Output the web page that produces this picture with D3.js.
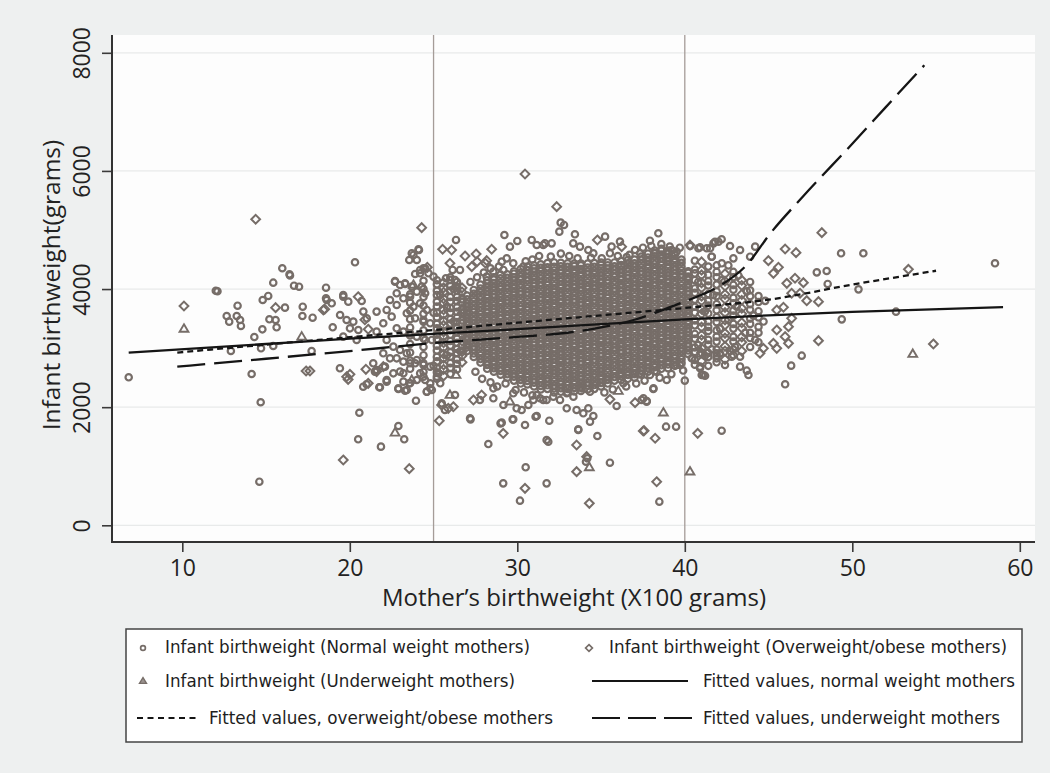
<!DOCTYPE html>
<html>
<head>
<meta charset="utf-8">
<script src="https://cdn.jsdelivr.net/npm/d3@7"></script>
<style>
body { margin: 0; background: #eef0f0; }
svg { display: block; }
</style>
</head>
<body>
<svg id="chart" width="1050" height="773"></svg>
<script>
// ---- data ----
var xTicks = [10, 20, 30, 40, 50, 60];
var yTicks = [0, 2000, 4000, 6000, 8000];
var refLines = [25, 40];

// dense part of the cloud, grouped by mother's birthweight: [x, [infant weights]]
var normalCols = [
  [23.6, [2650,2790,2925,3070,3215,3350,3490,3635,3770,3910]],
  [24.4, [2600,2745,2880,3020,3165,3300,3445,3580,3720,3865,4000,4140]],
  [25.2, [2480,2590,2660,2775,2850,2960,3040,3150,3225,3335,3410,3520,3600,3705,3785,3900,3970,4080,4150]],
  [26.0, [2560,2665,2745,2855,2930,3040,3120,3225,3305,3415,3490,3600,3680,3785,3865,3975,4050,4155,4200]],
  [26.4, [2640,2735,2810,2915,2985,3090,3160,3265,3340,3440,3515,3615,3690,3795,3865,3970,4040,4120]],
  [27.0, [2950,3015,3070,3140,3200,3265,3320,3390,3445,3510,3575,3630,3700,3760,3825,3890]],
  [27.4, [2850,2910,2975,3030,3100,3160,3225,3285,3355,3410,3475,3535,3605,3660,3725,3790,3850,3920,3985]],
  [27.8, [2755,2815,2880,2935,3005,3065,3130,3190,3260,3315,3380,3440,3510,3570,3630,3695,3755,3820,3880,3950,4010,4075]],
  [28.2, [2650,2715,2770,2840,2900,2965,3025,3095,3150,3215,3275,3345,3400,3465,3525,3595,3650,3715,3775,3845,3900,3965,4030,4095,4150]],
  [28.6, [2600,2660,2725,2780,2850,2910,2975,3035,3105,3160,3225,3285,3355,3410,3475,3535,3605,3660,3725,3785,3855,3910,3975,4035,4100,4160,4200]],
  [29.0, [2550,2615,2670,2740,2800,2865,2925,2995,3050,3115,3175,3245,3300,3365,3425,3495,3550,3615,3675,3745,3800,3865,3925,3995,4050,4115,4180,4245]],
  [29.4, [2500,2560,2625,2680,2750,2810,2875,2935,3005,3060,3125,3185,3255,3310,3375,3435,3505,3560,3625,3685,3755,3810,3875,3935,4005,4060,4125,4190,4250]],
  [29.8, [2450,2515,2570,2640,2700,2765,2825,2895,2950,3015,3075,3145,3200,3265,3325,3395,3450,3515,3575,3645,3700,3765,3825,3895,3950,4015,4075,4145,4200,4260,4300]],
  [30.2, [2400,2460,2525,2580,2650,2710,2775,2835,2905,2960,3025,3085,3155,3210,3275,3335,3405,3460,3525,3585,3655,3710,3775,3835,3905,3960,4025,4085,4155,4210,4275,4340]],
  [30.6, [2385,2445,2510,2565,2635,2695,2760,2820,2890,2945,3010,3070,3140,3195,3260,3320,3390,3445,3510,3570,3640,3695,3760,3820,3890,3945,4010,4070,4140,4195,4260,4320,4380]],
  [31.0, [2350,2415,2470,2540,2600,2665,2725,2795,2850,2915,2975,3045,3100,3165,3225,3295,3350,3415,3475,3545,3600,3665,3725,3795,3850,3915,3975,4045,4100,4165,4225,4295,4350,4400]],
  [31.4, [2300,2360,2425,2480,2550,2610,2675,2735,2805,2860,2925,2985,3055,3110,3175,3235,3305,3360,3425,3485,3555,3610,3675,3735,3805,3860,3925,3985,4055,4110,4175,4235,4305,4360,4420]],
  [31.8, [2310,2370,2435,2490,2560,2620,2685,2745,2815,2870,2935,2995,3065,3120,3185,3245,3315,3370,3435,3495,3565,3620,3685,3745,3815,3870,3935,3995,4065,4120,4185,4245,4315,4370,4440]],
  [32.2, [2250,2315,2370,2440,2500,2565,2625,2695,2750,2815,2875,2945,3000,3065,3125,3195,3250,3315,3375,3445,3500,3565,3625,3695,3750,3815,3875,3945,4000,4065,4125,4195,4250,4315,4375,4450]],
  [32.6, [2260,2320,2385,2440,2510,2570,2635,2695,2765,2820,2885,2945,3015,3070,3135,3195,3265,3320,3385,3445,3515,3570,3635,3695,3765,3820,3885,3945,4015,4070,4135,4195,4265,4320,4385,4445]],
  [33.0, [2250,2310,2375,2430,2500,2560,2625,2685,2755,2810,2875,2935,3005,3060,3125,3185,3255,3310,3375,3435,3505,3560,3625,3685,3755,3810,3875,3935,4005,4060,4125,4185,4255,4310,4375,4435]],
  [33.4, [2265,2325,2390,2445,2515,2575,2640,2700,2770,2825,2890,2950,3020,3075,3140,3200,3270,3325,3390,3450,3520,3575,3640,3700,3770,3825,3890,3950,4020,4075,4140,4200,4270,4325,4390,4430]],
  [33.8, [2275,2340,2395,2465,2525,2590,2650,2720,2775,2840,2900,2970,3025,3090,3150,3220,3275,3340,3400,3470,3525,3590,3650,3720,3775,3840,3900,3970,4025,4090,4150,4220,4275,4340,4400,4430]],
  [34.2, [2300,2365,2420,2490,2550,2615,2675,2745,2800,2865,2925,2995,3050,3115,3175,3245,3300,3365,3425,3495,3550,3615,3675,3745,3800,3865,3925,3995,4050,4115,4175,4245,4300,4365,4430]],
  [34.6, [2310,2375,2430,2500,2560,2625,2685,2755,2810,2875,2935,3005,3060,3125,3185,3255,3310,3375,3435,3505,3560,3625,3685,3755,3810,3875,3935,4005,4060,4125,4185,4255,4310,4375,4440]],
  [35.0, [2350,2410,2475,2530,2600,2660,2725,2785,2855,2910,2975,3035,3105,3160,3225,3285,3355,3410,3475,3535,3605,3660,3725,3785,3855,3910,3975,4035,4105,4160,4225,4285,4355,4410,4450]],
  [35.4, [2400,2465,2520,2590,2650,2715,2775,2845,2900,2965,3025,3095,3150,3215,3275,3345,3400,3465,3525,3595,3650,3715,3775,3845,3900,3965,4025,4095,4150,4215,4275,4345,4400,4450]],
  [35.8, [2450,2510,2575,2630,2700,2760,2825,2885,2955,3010,3075,3135,3205,3260,3325,3385,3455,3510,3575,3635,3705,3760,3825,3885,3955,4010,4075,4135,4205,4260,4325,4385,4450]],
  [36.2, [2460,2525,2580,2650,2710,2775,2835,2905,2960,3025,3085,3155,3210,3275,3335,3405,3460,3525,3585,3655,3710,3775,3835,3905,3960,4025,4085,4155,4210,4275,4335,4405,4475]],
  [36.6, [2480,2545,2600,2670,2730,2795,2855,2925,2980,3045,3105,3175,3230,3295,3355,3425,3480,3545,3605,3675,3730,3795,3855,3925,3980,4045,4105,4175,4230,4295,4355,4425,4490]],
  [37.0, [2500,2560,2625,2680,2750,2810,2875,2935,3005,3060,3125,3185,3255,3310,3375,3435,3505,3560,3625,3685,3755,3810,3875,3935,4005,4060,4125,4185,4255,4310,4375,4435,4500]],
  [37.4, [2550,2615,2670,2740,2800,2865,2925,2995,3050,3115,3175,3245,3300,3365,3425,3495,3550,3615,3675,3745,3800,3865,3925,3995,4050,4115,4175,4245,4300,4365,4425,4495,4550]],
  [37.8, [2600,2660,2725,2780,2850,2910,2975,3035,3105,3160,3225,3285,3355,3410,3475,3535,3605,3660,3725,3785,3855,3910,3975,4035,4105,4160,4225,4285,4355,4410,4475,4535,4600]],
  [38.2, [2610,2675,2730,2800,2860,2925,2985,3055,3110,3175,3235,3305,3360,3425,3485,3555,3610,3675,3735,3805,3860,3925,3985,4055,4110,4175,4235,4305,4360,4425,4485,4555,4610,4650]],
  [38.6, [2650,2710,2775,2830,2900,2960,3025,3085,3155,3210,3275,3335,3405,3460,3525,3585,3655,3710,3775,3835,3905,3960,4025,4085,4155,4210,4275,4335,4405,4460,4525,4585,4650,4680]],
  [39.0, [2660,2725,2780,2850,2910,2975,3035,3105,3160,3225,3285,3355,3410,3475,3535,3605,3660,3725,3785,3855,3910,3975,4035,4105,4160,4225,4285,4355,4410,4475,4535,4600,4650]],
  [39.4, [2700,2760,2825,2880,2950,3010,3075,3135,3205,3260,3325,3385,3455,3510,3575,3635,3705,3760,3825,3885,3955,4010,4075,4135,4205,4260,4325,4385,4455,4510,4575,4600]],
  [39.8, [2750,2815,2870,2940,3000,3065,3125,3195,3250,3315,3375,3445,3500,3565,3625,3695,3750,3815,3875,3945,4000,4065,4125,4195,4250,4315,4375,4445,4500]],
  [40.2, [2900,2960,3025,3080,3150,3210,3275,3335,3405,3460,3525,3585,3655,3710,3775,3835,3905,3960,4025,4085,4155,4210,4275,4300]],
  [40.6, [2720,2800,2935,3010,3160,3240,3385,3470,3600,3700,3820,3935,4010,4150,4265,4330,4480]],
  [41.4, [2700,2850,2920,3060,3140,3290,3360,3450,3585,3720,3800,3915,4060,4135,4240,4380]],
  [41.9, [2760,2870,2975,3110,3195,3300,3440,3525,3640,3745,3880,3960,4075,4200,4290,4400]],
  [42.9, [2880,2975,3110,3190,3330,3410,3550,3635,3760,3850,3990,4070,4200,4290]],
  [43.9, [3020,3170,3260,3410,3500,3650,3745,3880,3980,4120]],
  [44.4, [3100,3260,3360,3520,3625,3780,3880]]
];

var overCols = [
  [25.6, [2530,2640,2715,2830,2900,3010,3090,3200,3275,3385,3460,3570,3650,3760,3835,3945,4020,4110]],
  [26.7, [2760,2870,2940,3050,3120,3230,3300,3410,3480,3590,3660,3770,3840,3950,4020]],
  [41.0, [2780,2920,3000,3140,3220,3355,3445,3580,3660,3800,3880,4020,4105,4240,4320,4460]],
  [42.4, [2810,2950,3030,3170,3250,3390,3475,3600,3690,3830,3910,4050,4135,4260]],
  [43.4, [2950,3100,3190,3340,3430,3580,3675,3810,3910,4060,4150]]
];

// scattered infants of normal weight mothers: [mother x100g, infant g]
var normalPts = [
  [6.8,2506],[12.0,3972],[12.1,3962],[12.65,3544],[12.8,3448],[13.25,3544],[13.45,3476],[13.5,3375],[13.3,3718],[12.9,2951],
  [14.14,2562],[14.68,2083],[14.6,738],[14.3,3188],[14.78,3318],[14.8,3815],[15.13,3883],[15.43,4108],[15.97,4352],[16.4,4250],
  [16.43,4230],[16.67,4057],[16.97,4040],[16.13,3685],[15.2,3488],[15.57,3476],[15.63,3352],[14.7,2997],[15.43,3036],[17.19,3701],
  [17.17,3544],[17.78,3515],[17.72,2951],[18.58,4023],[18.58,3843],[19.61,3900],[20.31,4453],[18.62,3815],[18.92,3759],[18.98,3352],
  [19.41,2658],[20.57,1906],[20.5,1456],[21.86,1332],[22.9,1681],[23.25,1456],[23.95,2110],[21.0,2387],[20.8,2347],[21.76,2337],
  [22.2,2432],[22.9,2308],[23.3,2279],[23.2,2574],
  [19.61,3871],[19.91,3787],[20.71,3798],[20.81,3618],[19.42,3561],[19.81,3476],[20.21,3448],[20.01,3335],[20.51,3307],[19.61,3194],
  [20.41,3138],[21.01,3505],[21.6,3618],[22.2,3646],[22.0,3420],[21.6,3279],[22.5,3533],[22.7,4125],[23.0,4069],[23.3,4097],
  [23.7,4041],[22.8,3928],[23.2,3843],[23.6,3871],[24.0,3956],[24.3,4041],[24.5,3928],[23.8,3702],[24.2,3759],[24.6,3646],
  [22.8,3730],[22.4,3815],[23.4,3589],[23.9,3505],[24.4,3476],[24.8,3420],[22.8,3335],[23.2,3279],[23.6,3251],[24.0,3194],
  [24.5,3138],[24.9,3138],[22.2,3138],[22.6,3025],[23.0,2968],[23.4,2912],[22.0,2912],[22.4,2827],[22.8,2827],[23.2,2771],
  [23.6,2743],[24.0,2799],[24.4,2715],[24.8,2686],[21.4,2743],[21.6,2630],[22.6,2573],[23.0,2602],[23.2,2432],[23.6,2404],
  [24.0,2460],[24.4,2517],[24.8,2404],[24.9,2291],[24.6,2263],[24.2,4267],[24.0,4492],[23.7,4605],[24.1,4673],[24.4,4351],
  [24.7,4267],[25.0,4210],
  [23.55,4492],[23.8,4577],[24.13,4661],[23.9,4255],[24.2,4323],[24.5,4351],[22.7,4136],[23.3,4086],[26.34,4831],[29.23,4915],
  [29.56,4718],[30.0,4814],[30.86,4831],[31.16,4746],[31.65,4774],[26.14,4323],[26.58,4323],[25.74,4182],[26.28,4154],[29.07,4464],
  [29.37,4520],[29.76,4436],[30.36,4379],[28.57,4295],[28.17,4210],[29.17,4323],
  [32.59,5124],[32.79,5085],[32.51,4972],[33.44,4927],[35.24,4887],[35.63,4718],[36.13,4803],[37.92,4819],[38.42,4944],[31.55,4746],
  [32.05,4774],[33.34,4774],[33.74,4718],[34.24,4661],[34.54,4605],[35.04,4520],[35.53,4605],[36.53,4540],[37.03,4661],[37.33,4605],
  [38.22,4605],[38.92,4605],[39.22,4661],[39.51,4633],
  [40.81,4690],[41.31,4690],[41.6,4548],[41.8,4802],[42.2,4842],
  [49.33,4605],[50.66,4605],[58.52,4436],[47.88,4283],[48.47,4306],[48.53,4086],[50.37,3995],[52.61,3617],[49.37,3487],[46.98,2872],
  [46.35,2703],[45.99,2387],[40.32,4729],[40.91,4707],[41.51,4690],[41.71,4774],[42.01,4802],[42.7,4729],[43.3,4661],[44.2,4718],
  [43.9,4548],[41.61,4548],[42.21,4436],[42.9,4520],[40.45,2827],[40.91,2686],[41.01,2545],[41.21,2533],[42.4,2714],[42.8,2855],
  [43.3,2855],[43.3,2686],[43.7,2618],[43.8,2545],[42.1,2912],[41.9,2827],[38.13,2319],[37.53,2150],[37.73,2105],[38.88,1670],
  [39.48,1670],[42.2,1602],
  [27.21,1794],[28.27,1376],[29.0,1726],[29.72,1794],[30.46,1698],[31.09,1839],[31.91,1771],[31.85,1416],[31.75,1444],[30.5,982],
  [29.16,710],[30.16,417],[31.75,710],[34.18,1134],[34.1,1077],[33.64,1625],[34.78,1512],[35.53,1060],[38.48,400],
  [22.1,2686],[21.5,2602],[22.2,2460],[21.8,2336],[22.9,2319],[23.4,2291],[23.55,2404],[24.2,2573],[24.5,2460],[24.6,2263],
  [24.8,2319],[25.2,2517],[25.4,2404],[25.3,2573],[23.9,2743],
  [25.49,2065],[25.68,1952],[26.28,2206],[27.18,1811],[27.77,2122],[28.57,2319],[28.57,2150],[29.17,2037],[29.76,2235],[29.96,1981],
  [30.26,1952],[30.66,2037],[30.96,2122],[31.16,2206],[31.55,2122],[29.07,1738],[29.76,1794],[31.16,1851],
  [32.95,1981],[33.54,1952],[33.94,1896],[34.24,1981],[34.54,1851],[34.34,1755],[33.64,1614],[35.93,2020],[37.42,2122],[37.72,2094],
  [38.12,2308],
  [31.36,2150],[31.75,2122],[32.15,2178],[32.55,2122],[32.95,2235],[33.35,2178],[33.84,2319],[34.34,2263],[34.74,2404],[35.34,2460],
  [36.13,2573],[36.33,2404],[36.93,2573],[37.33,2573],[37.92,2545],[38.32,2601],[38.92,2460],[39.51,2714],[39.71,2714],[40.41,2827],
  [40.91,2658],[41.11,2545],[41.9,2912],
  [27.5,2600],[27.9,2480],[28.4,2420],[28.8,2350],[29.3,2400],[29.9,2290],[30.4,2250],[30.9,2200],[35.2,2250],[35.7,2300],
  [36.5,2350],[37.1,2400],[37.6,2450],[38.5,2500],[39.2,2560],[39.9,2620],[40.0,2450],
  [27.2,4120],[27.6,4200],[28.0,4280],[28.4,4350],[28.9,4380],[30.5,4470],[30.9,4500],[31.3,4560],[32.0,4550],[32.6,4600],
  [33.1,4560],[33.6,4520],[34.4,4530],[36.0,4560],[36.7,4580],[37.5,4700],[38.0,4730],[38.6,4760],[39.1,4720],[39.7,4700],
  [40.8,3050],[41.2,3620],[41.6,2980],[41.7,3900],[42.1,3330],[42.2,4150],[42.6,3480],[42.7,2950],[43.1,3700],[43.2,4230],
  [43.6,3260],[43.7,3960],[44.1,3550],[44.2,3140],[44.7,3450],[44.8,3800],[40.8,4120],[41.2,2870],[42.6,4400],[43.0,3020],
  [25.0,2700],[25.4,3300],[25.8,2880],[25.8,3700],[26.2,3450],[26.6,2950],[26.2,4000],[25.4,3900],[26.8,3600],[25.0,3600]
];

// infants of overweight/obese mothers
var overPts = [
  [10.1,3713],[14.38,5181],[15.57,3685],[17.39,2613],[17.62,2613],[18.42,3645],[18.5,3660],[19.81,2516],[20.01,2556],[19.61,1106],
  [23.55,959],[20.96,2641],[21.6,2602],[22.0,2686],[21.1,2404],[20.5,3870],[20.9,3480],[21.1,3320],[19.9,2470],
  [24.29,5040],[24.63,4368],[25.54,4673],[26.08,4661],[25.98,4436],[26.88,4560],[27.54,4594],[28.17,4481],[28.47,4673],[27.28,4379],
  [27.6,4464],[28.1,4436],[30.46,5948],[32.35,5395],[34.78,4831],[36.23,4718],[40.31,4746],
  [48.18,4955],[53.35,4334],[47.98,3787],[54.84,3070],[47.98,3126],[45.99,4678],[46.64,4616],[44.99,4481],[45.59,4368],[45.29,4266],
  [46.09,4097],[46.58,4182],[47.08,4108],[47.28,3803],[46.88,3928],[46.38,3928],[45.89,3691],[45.49,3646],[46.38,3504],[46.19,3363],
  [45.49,3307],[45.29,3081],[45.49,2996],[46.19,3081],[45.99,3194],[44.69,2996],[44.49,2912],[37.57,1602],[38.23,1473],[40.77,1557],
  [25.34,1771],[25.88,1980],[26.18,2008],[25.48,2037],[29.16,1557],[30.46,626],[33.54,1359],[33.54,908],[34.3,372],[38.32,738],
  [27.38,2122],[27.87,2206],[34.14,1162],[35.53,2133],[37.03,2077],[37.52,1596]
];

// infants of underweight mothers
var underPts = [
  [10.1,3325],[17.13,3193],[22.7,1568],[25.98,2206],[23.7,2460],[23.8,4070],[26.34,2545],[29.56,2094],[34.3,981],[36.03,2274],
  [38.72,1907],[40.31,908],[40.97,2900],[53.61,2900]
];

// fitted values: [x, predicted infant g]
var fitNormal = [[6.8,2925],[15,3070],[20,3160],[25,3240],[30,3320],[35,3405],[40,3485],[45,3555],[50,3615],[59,3695]];
var fitOver = [[9.7,2925],[15,3060],[20,3185],[25,3305],[30,3430],[35,3555],[40,3680],[45,3820],[50,4075],[55,4310]];
var fitUnder = [[9.7,2686],[15,2820],[20,2950],[25,3085],[30,3190],[33,3260],[35,3350],[37,3480],[39,3680],[40,3790],[42,4040],[43.7,4410],[45.1,4940],[47,5550],[50,6460],[52,7080],[54.3,7790]];

var legendLabels = [
  'Infant birthweight (Normal weight mothers)',
  'Infant birthweight (Overweight/obese mothers)',
  'Infant birthweight (Underweight mothers)',
  'Fitted values, normal weight mothers',
  'Fitted values, overweight/obese mothers',
  'Fitted values, underweight mothers'
];

// ---- drawing ----
var svg = d3.select('#chart');
var W = 1050, H = 773;
var plot = {left: 112, right: 1035, top: 35, bottom: 542};
var markColor = '#766d68';
var lineColor = '#151515';

var x = d3.scaleLinear().domain([10, 60]).range([182.3, 1019.8]);
var y = d3.scaleLinear().domain([0, 8000]).range([525.3, 52.8]);

svg.append('rect').attr('width', W).attr('height', H).attr('fill', '#eef0f0');
svg.append('rect')
  .attr('x', plot.left).attr('y', plot.top)
  .attr('width', plot.right - plot.left).attr('height', plot.bottom - plot.top)
  .attr('fill', '#fdfdfd');

// gridlines
svg.append('g').selectAll('line')
  .data(yTicks).enter().append('line')
  .attr('x1', plot.left).attr('x2', plot.right)
  .attr('y1', function(d) { return y(d); }).attr('y2', function(d) { return y(d); })
  .attr('stroke', '#e8eaea').attr('stroke-width', 1.2);

// reference lines at 25 and 40
svg.append('g').selectAll('line')
  .data(refLines).enter().append('line')
  .attr('x1', function(d) { return x(d); }).attr('x2', function(d) { return x(d); })
  .attr('y1', plot.top).attr('y2', plot.bottom)
  .attr('stroke', '#a59c98').attr('stroke-width', 1.3);

function flatten(cols) {
  var out = [];
  cols.forEach(function(c) {
    c[1].forEach(function(v) { out.push([c[0], v]); });
  });
  return out;
}

var diamondPath = 'M0,-4.4L4.4,0L0,4.4L-4.4,0Z';
var trianglePath = 'M0,-4.6L4.4,2.9L-4.4,2.9Z';

var pts = svg.append('g').attr('class', 'points')
  .attr('fill', 'none').attr('stroke', markColor);

pts.append('g').selectAll('circle')
  .data(flatten(normalCols).concat(normalPts))
  .enter().append('circle')
  .attr('cx', function(d) { return x(d[0]); })
  .attr('cy', function(d) { return y(d[1]); })
  .attr('r', 3.2)
  .attr('stroke-width', 2.2);

pts.append('g').selectAll('path')
  .data(flatten(overCols).concat(overPts))
  .enter().append('path')
  .attr('d', diamondPath)
  .attr('transform', function(d) { return 'translate(' + [x(d[0]), y(d[1])] + ')'; })
  .attr('stroke-width', 2);

pts.append('g').selectAll('path')
  .data(underPts)
  .enter().append('path')
  .attr('d', trianglePath)
  .attr('transform', function(d) { return 'translate(' + [x(d[0]), y(d[1])] + ')'; })
  .attr('stroke-width', 1.9);

// fitted lines
var line = d3.line()
  .x(function(d) { return x(d[0]); })
  .y(function(d) { return y(d[1]); })
  .curve(d3.curveMonotoneX);

var fits = [
  {data: fitNormal, dash: null},
  {data: fitOver, dash: '6,4'},
  {data: fitUnder, dash: '28,9'}
];
svg.append('g').selectAll('path')
  .data(fits).enter().append('path')
  .attr('d', function(d) { return line(d.data); })
  .attr('fill', 'none')
  .attr('stroke', lineColor)
  .attr('stroke-width', 2.3)
  .attr('stroke-dasharray', function(d) { return d.dash; });

// axes
var yAxis = svg.append('g')
  .attr('transform', 'translate(' + [plot.left, 0] + ')')
  .call(d3.axisLeft(y).tickValues(yTicks).tickFormat(d3.format('d')).tickSize(10).tickSizeOuter(0));
yAxis.select('.domain').remove();
yAxis.selectAll('line').attr('stroke', '#3a3a3a').attr('stroke-width', 1.6);
yAxis.selectAll('text')
  .attr('transform', 'rotate(-90)')
  .attr('x', 0).attr('y', -22).attr('dy', null)
  .attr('text-anchor', 'middle')
  .attr('fill', '#222')
  .style('font-family', '"Open Sans", sans-serif')
  .style('font-size', '23px');

var xAxis = svg.append('g')
  .attr('transform', 'translate(' + [0, plot.bottom] + ')')
  .call(d3.axisBottom(x).tickValues(xTicks).tickSize(10).tickSizeOuter(0));
xAxis.select('.domain').remove();
xAxis.selectAll('line').attr('stroke', '#3a3a3a').attr('stroke-width', 1.6);
xAxis.selectAll('text')
  .attr('y', 34).attr('dy', null)
  .attr('fill', '#222')
  .style('font-family', '"Open Sans", sans-serif')
  .style('font-size', '23px');

// axis lines
svg.append('line')
  .attr('x1', plot.left).attr('x2', plot.left)
  .attr('y1', plot.top).attr('y2', plot.bottom + 1)
  .attr('stroke', '#333').attr('stroke-width', 2);
svg.append('line')
  .attr('x1', plot.left - 1).attr('x2', plot.right)
  .attr('y1', plot.bottom).attr('y2', plot.bottom)
  .attr('stroke', '#333').attr('stroke-width', 2);

// axis titles
svg.append('text')
  .attr('transform', 'translate(' + [60, 285] + ') rotate(-90)')
  .attr('text-anchor', 'middle')
  .attr('fill', '#222')
  .style('font-family', '"Open Sans", sans-serif')
  .style('font-size', '24.5px')
  .text('Infant birthweight(grams)');

svg.append('text')
  .attr('x', 574).attr('y', 606)
  .attr('text-anchor', 'middle')
  .attr('fill', '#222')
  .style('font-family', '"Open Sans", sans-serif')
  .style('font-size', '24px')
  .text('Mother\u2019s birthweight (X100 grams)');

// legend
var legend = svg.append('g');
legend.append('rect')
  .attr('x', 126).attr('y', 629)
  .attr('width', 896).attr('height', 113)
  .attr('fill', '#ffffff')
  .attr('stroke', '#444').attr('stroke-width', 1.5);

var legendLayout = [
  {kind: 'circle', mx: 143, my: 648, tx: 165, ty: 653, tw: 365},
  {kind: 'diamond', mx: 589, my: 648, tx: 609, ty: 653, tw: 398},
  {kind: 'triangle', mx: 143, my: 681, tx: 165, ty: 687, tw: 350},
  {kind: 'solid', mx: 592, mx2: 688, my: 681, tx: 703, ty: 687, tw: 312},
  {kind: 'short', mx: 137, mx2: 200, my: 718, tx: 209, ty: 724, tw: 344},
  {kind: 'long', mx: 592, mx2: 693, my: 718, tx: 703, ty: 724, tw: 297}
];

legendLayout.forEach(function(l, i) {
  if (l.kind == 'circle') {
    legend.append('circle').attr('cx', l.mx).attr('cy', l.my).attr('r', 2.4)
      .attr('fill', 'none').attr('stroke', markColor).attr('stroke-width', 1.7);
  } else if (l.kind == 'diamond') {
    legend.append('path').attr('d', 'M0,-3.4L3.4,0L0,3.4L-3.4,0Z')
      .attr('transform', 'translate(' + [l.mx, l.my] + ')')
      .attr('fill', 'none').attr('stroke', markColor).attr('stroke-width', 1.7);
  } else if (l.kind == 'triangle') {
    legend.append('path').attr('d', 'M0,-3.5L3.5,2.4L-3.5,2.4Z')
      .attr('transform', 'translate(' + [l.mx, l.my] + ')')
      .attr('fill', '#9a928e').attr('stroke', markColor).attr('stroke-width', 1.4);
  } else {
    legend.append('line')
      .attr('x1', l.mx).attr('x2', l.mx2).attr('y1', l.my).attr('y2', l.my)
      .attr('stroke', lineColor).attr('stroke-width', 2.2)
      .attr('stroke-dasharray', l.kind == 'short' ? '6,4.5' : (l.kind == 'long' ? '28,8' : null));
  }
  legend.append('text')
    .attr('x', l.tx).attr('y', l.ty)
    .attr('textLength', l.tw).attr('lengthAdjust', 'spacingAndGlyphs')
    .attr('fill', '#1e1e1e')
    .style('font-family', '"DejaVu Sans", sans-serif')
    .style('font-size', '17px')
    .text(legendLabels[i]);
});
</script>
</body>
</html>
